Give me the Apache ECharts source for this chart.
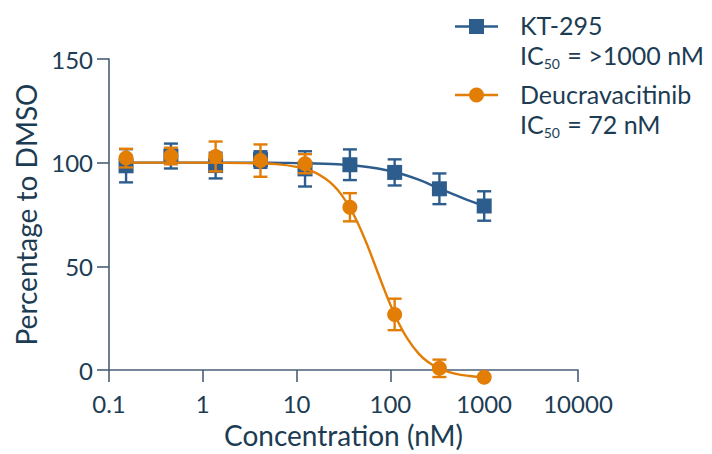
<!DOCTYPE html>
<html>
<head>
<meta charset="utf-8">
<script src="https://cdn.jsdelivr.net/npm/echarts@6/dist/echarts.min.js"></script>
<style>
  html, body { margin: 0; padding: 0; background: #ffffff; }
  #chart { width: 712px; height: 454px; }
</style>
</head>
<body>
<div id="chart"></div>
<script>
// Concentrations (nM), 3-fold dilution series
const concentrations = [0.152, 0.457, 1.37, 4.12, 12.3, 37.0, 111, 333, 1000];

// KT-295: mean percentage to DMSO and error
const kt295Mean = [98.5, 103.2, 98.6, 101.5, 97.0, 99.0, 95.3, 87.4, 79.1];
const kt295Err  = [8.0, 6.0, 6.2, 4.0, 8.5, 7.4, 6.3, 7.4, 7.1];

// Deucravacitinib: mean percentage to DMSO and error
const deucMean = [102.2, 103.2, 103.0, 101.0, 99.5, 78.5, 26.8, 0.8, -3.5];
const deucErr  = [4.5, 4.0, 7.2, 7.8, 4.6, 6.8, 7.6, 4.2, 0];

// Fitted dose-response curves, sampled along the concentration range
const kt295FitX = [0.152, 1, 5, 10, 20, 37, 60, 111, 200, 333, 600, 1000];
const kt295FitY = [100, 100, 100, 99.8, 99.5, 98.8, 97.8, 95.5, 91.8, 87.5, 82.8, 79.1];

const deucFitX = [0.152, 1, 3, 6, 10, 15, 20, 25, 30, 37, 45, 55, 65, 72, 85, 100, 120, 150, 200, 250, 333, 500, 700, 1000];
const deucFitY = [100, 100, 99.8, 99.3, 98.0, 95.7, 92.5, 88.8, 84.6, 78.3, 70.8, 61.7, 53.3, 48.0, 39.4, 31.5, 23.5, 15.5, 7.9, 4.0, 0.6, -1.9, -2.9, -3.5];

// Axis tick labels
const xTickLabels = ['0.1', '1', '10', '100', '1000', '10000'];
const yTickLabels = ['0', '50', '100', '150'];

// Legend entries
const seriesNames = ['KT-295', 'Deucravacitinib'];
const ic50Texts = ['>1000 nM', '72 nM'];

const BLUE = '#2d5d8d';
const ORANGE = '#e27d06';
const INK = '#1c3c54';
const AXIS = '#4a5e76';
const FONT = 'Lato';

const zip = (xs, ys) => xs.map((x, i) => [x, ys[i]]);
const errData = (means, errs) => concentrations.map((x, i) => [x, means[i] - errs[i], means[i] + errs[i]]);

function errorBarRender(color) {
  return function (params, api) {
    const x = api.value(0);
    const lo = api.coord([x, api.value(1)]);
    const hi = api.coord([x, api.value(2)]);
    const half = 7;
    const style = { stroke: color, lineWidth: 2.4, fill: 'none' };
    if (Math.abs(hi[1] - lo[1]) < 1) return null;
    return {
      type: 'group',
      children: [
        { type: 'line', shape: { x1: hi[0], y1: hi[1], x2: lo[0], y2: lo[1] }, style },
        { type: 'line', shape: { x1: hi[0] - half, y1: hi[1], x2: hi[0] + half, y2: hi[1] }, style },
        { type: 'line', shape: { x1: lo[0] - half, y1: lo[1], x2: lo[0] + half, y2: lo[1] }, style }
      ]
    };
  };
}

const chart = echarts.init(document.getElementById('chart'), null, { renderer: 'svg' });

// Legend block: marker line, series name, and IC50 line with subscript
const legendGraphics = [];
const legendColors = [BLUE, ORANGE];
const legendSymbols = ['rect', 'circle'];
seriesNames.forEach((name, i) => {
  const cy = 26.5 + i * 68.5;
  const color = legendColors[i];
  legendGraphics.push({
    type: 'line', shape: { x1: 455, y1: cy, x2: 498, y2: cy },
    style: { stroke: color, lineWidth: 2.4 }
  });
  if (legendSymbols[i] === 'rect') {
    legendGraphics.push({
      type: 'rect', shape: { x: 469, y: cy - 7.5, width: 15, height: 15 },
      style: { fill: color }
    });
  } else {
    legendGraphics.push({
      type: 'circle', shape: { cx: 476.5, cy: cy, r: 7.5 },
      style: { fill: color }
    });
  }
  legendGraphics.push({
    type: 'text', left: 520, top: cy - 14,
    style: { text: name, fill: INK, font: `25px ${FONT}` }
  });
  legendGraphics.push({
    type: 'text', left: 520, top: cy + 16,
    style: {
      text: `IC{sub|50} = ${ic50Texts[i]}`,
      fill: INK, font: `25px ${FONT}`,
      rich: {
        sub: { fontSize: 14, fontFamily: FONT, fill: INK, padding: [17, 1, 0, 0] }
      }
    }
  });
});

const option = {
  backgroundColor: '#ffffff',
  animation: false,
  textStyle: { fontFamily: FONT },
  grid: { left: 109, right: 134, top: 59, bottom: 82 },
  xAxis: {
    type: 'log',
    logBase: 10,
    min: 0.1,
    max: 10000,
    name: 'Concentration (nM)',
    nameLocation: 'middle',
    nameGap: 51,
    nameTextStyle: { color: INK, fontSize: 28, fontFamily: FONT },
    axisLine: { lineStyle: { color: AXIS, width: 1.6 } },
    axisTick: { show: true, length: 12, lineStyle: { color: AXIS, width: 1.6 } },
    minorTick: { show: false },
    splitLine: { show: false },
    axisLabel: {
      color: INK, fontSize: 24, fontFamily: FONT, margin: 21,
      formatter: (v, idx) => xTickLabels[idx] !== undefined ? xTickLabels[idx] : ''
    }
  },
  yAxis: {
    type: 'value',
    min: 0,
    max: 150,
    interval: 50,
    name: 'Percentage to DMSO',
    nameLocation: 'middle',
    nameGap: 64,
    nameTextStyle: { color: INK, fontSize: 28, fontFamily: FONT },
    axisLine: { show: true, lineStyle: { color: AXIS, width: 1.6 } },
    axisTick: { show: true, length: 12, lineStyle: { color: AXIS, width: 1.6 } },
    splitLine: { show: false },
    axisLabel: {
      color: INK, fontSize: 24, fontFamily: FONT, margin: 16,
      formatter: (v, idx) => yTickLabels[idx]
    }
  },
  graphic: legendGraphics,
  series: [
    {
      name: seriesNames[0] + ' fit', type: 'line', data: zip(kt295FitX, kt295FitY),
      smooth: 0.4, showSymbol: false, clip: false, z: 2,
      lineStyle: { color: BLUE, width: 2.4 }
    },
    {
      name: seriesNames[0] + ' error', type: 'custom', data: errData(kt295Mean, kt295Err),
      renderItem: errorBarRender(BLUE), clip: false, z: 3,
      encode: { x: 0, y: [1, 2] }
    },
    {
      name: seriesNames[0], type: 'scatter', data: zip(concentrations, kt295Mean),
      symbol: 'rect', symbolSize: 15, clip: false, z: 4,
      itemStyle: { color: BLUE, opacity: 1 }
    },
    {
      name: seriesNames[1] + ' fit', type: 'line', data: zip(deucFitX, deucFitY),
      smooth: 0.4, showSymbol: false, clip: false, z: 5,
      lineStyle: { color: ORANGE, width: 2.4 }
    },
    {
      name: seriesNames[1] + ' error', type: 'custom', data: errData(deucMean, deucErr),
      renderItem: errorBarRender(ORANGE), clip: false, z: 6,
      encode: { x: 0, y: [1, 2] }
    },
    {
      name: seriesNames[1], type: 'scatter', data: zip(concentrations, deucMean),
      symbol: 'circle', symbolSize: 15, clip: false, z: 7,
      itemStyle: { color: ORANGE, opacity: 1 }
    }
  ]
};

chart.setOption(option);
</script>
</body>
</html>
